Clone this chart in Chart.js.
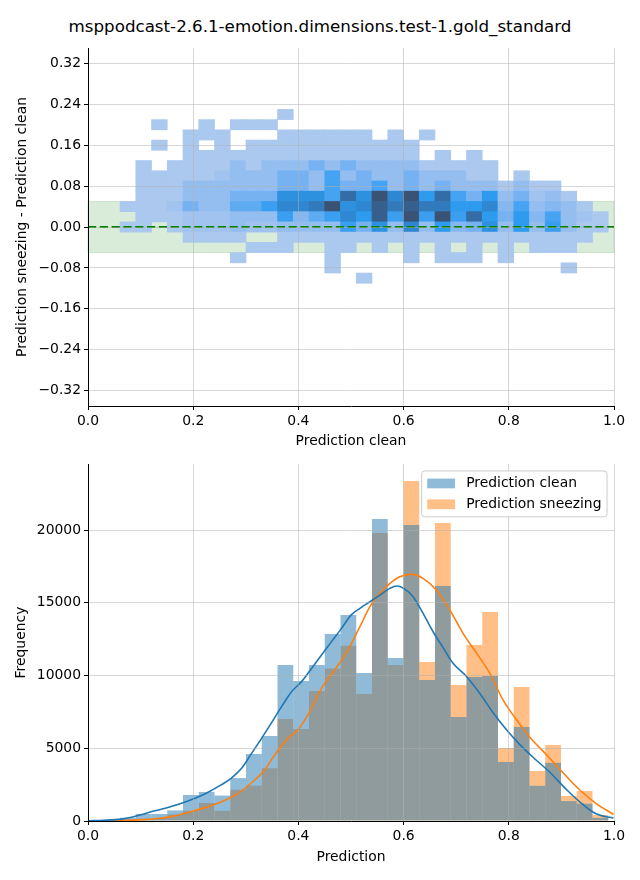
<!DOCTYPE html>
<html>
<head>
<meta charset="utf-8">
<script src="https://cdn.jsdelivr.net/npm/chart.js@4.4.1/dist/chart.umd.min.js"></script>
<style>
  html, body { margin: 0; background: #fff; overflow: hidden; }
  #wrap { position: relative; width: 640px; height: 880px; }
  #title { position: absolute; left: 0; top: 16px; width: 640px; line-height: 20px; text-align: center;
           font: 16.7px 'DejaVu Sans', sans-serif; color: #000; }
  canvas { position: absolute; left: 0; }
</style>
</head>
<body>
<div id="wrap">
  <div id="title">msppodcast-2.6.1-emotion.dimensions.test-1.gold_standard</div>
  <canvas id="diffChart" width="640" height="460" style="top:0"></canvas>
  <canvas id="histChart" width="640" height="420" style="top:460px"></canvas>
</div>
<script>
// histogram bins (shared by both panels)
const binStart = 0.001;
const binWidth = 0.02994;
const cleanCounts = [60, 90, 230, 480, 480, 730, 1790, 2000, 1750, 2950,
  4600, 5840, 10720, 9620, 10720, 12850, 14160, 10170, 20760, 11200,
  20340, 9690, 16150, 7150, 9900, 9970, 4060, 6470, 2420, 4000,
  1370, 1190, 220];
const sneezingCounts = [40, 60, 80, 130, 200, 450, 700, 1240, 700, 2150,
  2430, 3630, 7010, 6320, 8930, 10490, 12040, 8730, 19790, 10720,
  23370, 10930, 20480, 9350, 12100, 14360, 5020, 9210, 3440, 5220,
  1720, 2060, 410];

// kde curves
const kdeCleanX = [0.0, 0.03, 0.063, 0.095, 0.127, 0.158, 0.19, 0.222, 0.253, 0.272, 0.292, 0.311, 0.33, 0.349,
  0.368, 0.387, 0.406, 0.425, 0.444, 0.463, 0.482, 0.50, 0.517, 0.536, 0.555, 0.574, 0.587, 0.60, 0.618,
  0.637, 0.656, 0.676, 0.694, 0.72, 0.745, 0.771, 0.796, 0.821, 0.847, 0.878, 0.91, 0.942, 0.967, 0.999];
const kdeCleanY = [20, 50, 130, 380, 700, 990, 1380, 1860, 2480, 2930, 3620, 4650, 5680, 6760,
  7860, 8890, 9580, 10490, 11410, 12330, 13240, 14150, 14620, 15070, 15530, 15990, 16150, 15990, 15420,
  14270, 13010, 11870, 10840, 9920, 8770, 7400, 6250, 5250, 4350, 3350, 2150, 1100, 480, 200];
const kdeSneezeX = [0.04, 0.063, 0.095, 0.127, 0.158, 0.19, 0.222, 0.253, 0.285, 0.317, 0.336, 0.355, 0.38,
  0.399, 0.418, 0.444, 0.469, 0.494, 0.517, 0.536, 0.555, 0.574, 0.593, 0.615, 0.637, 0.662, 0.688, 0.713,
  0.739, 0.764, 0.789, 0.815, 0.84, 0.872, 0.904, 0.935, 0.967, 0.999];
const kdeSneezeY = [5, 30, 80, 150, 300, 580, 920, 1300, 1900, 2820, 3510, 4540, 5680,
  6260, 7290, 9120, 10380, 11750, 13360, 14730, 15650, 16330, 16790, 16950, 16680, 15880, 14500, 12900,
  11520, 10150, 8320, 6940, 5750, 4540, 3280, 2130, 1180, 450];

// 2d histogram of the difference: row centres, cell height, density level per column (first column = bin 2)
const diffRows = [0.22, 0.20, 0.18, 0.16, 0.14, 0.12, 0.10, 0.08, 0.06, 0.04, 0.02, 0.00, -0.02, -0.04, -0.06, -0.08, -0.10];
const diffCellHeight = 0.02;
const heatFirstBin = 2;
const diffLevels = [
  [0,0,0,0,0,0,0,0,0,0,1,0,0,0,0,0,0,0,0,0,0,0,0,0,0,0,0,0,0,0,0],
  [0,0,1,0,0,1,0,1,1,1,0,0,0,0,0,0,0,0,0,0,0,0,0,0,0,0,0,0,0,0,0],
  [0,0,0,0,1,1,1,0,0,0,1,1,1,1,1,1,0,1,0,1,0,0,0,0,0,0,0,0,0,0,0],
  [0,0,1,0,1,0,1,0,1,1,1,1,1,1,1,1,1,1,1,0,0,0,0,0,0,0,0,0,0,0,0],
  [0,0,0,0,1,1,1,1,1,1,1,1,1,1,1,1,1,1,1,0,1,0,1,0,0,0,0,0,0,0,0],
  [0,1,0,1,1,1,1,2,1,2,2,2,3,2,3,2,2,2,2,1,1,1,1,1,0,0,0,0,0,0,0],
  [0,1,1,1,1,1,1.5,2,2,2,3,3,2,4,2,3,2,2,3,2,2,2,1,1,0,1,0,0,0,0,0],
  [0,1,1,1,2,2,2,2,2,2,3,3,2,4,3,3,4,2,3,2,3,2,2,2,1,2,1,1,0,0,0],
  [0,1,1,1,2,2,2,3,3,3,5.5,5.5,5.5,4,7,5.5,8,6,8,5,7,4,3,5,2,3,1.5,2,1,0,0],
  [1,1,1,1.5,3,2,2,3.5,3.5,4.5,6,6,6.5,8,5.5,6,7.5,6.5,7.5,6.5,6.5,5,5,6,2.5,4,2,2.5,2,1,0],
  [0,1,1,1,1.5,1.5,1.5,2,2,2,4.5,2.5,3.5,4.5,6,5,7.5,4.5,8,4.5,8,4.5,7,5,3,5,2.5,4,2,1.5,1],
  [1,1,0,1,1.5,1.5,1.5,2,1.5,1.5,2,2,2,2,4.5,3,5.5,2,6,2,5,2.5,3,5.5,2,5,2,4.5,2,1,1],
  [0,0,0,0,1,1,1,1,0,0,1,1,1,1,1,1,1,1,1,1,1,1,1,1,1,1,1,1,1,1,0],
  [0,0,0,0,0,0,0,0,1,1,1,0,0,1,1,0,1,0,1,0,1,0,1,0,1,0,1,1,1,0,0],
  [0,0,0,0,0,0,0,1,0,0,0,0,0,1,0,0,0,0,1,0,1,1,1,0,1,0,0,0,0,0,0],
  [0,0,0,0,0,0,0,0,0,0,0,0,0,1,0,0,0,0,0,0,0,0,0,0,0,0,0,0,1,0,0],
  [0,0,0,0,0,0,0,0,0,0,0,0,0,0,0,1,0,0,0,0,0,0,0,0,0,0,0,0,0,0,0]
];
const tolerance = 0.05;

const xTicks = [0, 0.2, 0.4, 0.6, 0.8, 1.0];
const diffTicks = [-0.32, -0.24, -0.16, -0.08, 0, 0.08, 0.16, 0.24, 0.32];
const freqTicks = [0, 5000, 10000, 15000, 20000];

// colour ramp for the 2d histogram, level 1..8
const levelRamp = [[171,200,238],[148,190,240],[118,178,242],[70,163,242],[46,155,238],[46,135,208],[52,108,165],[58,82,115]];
function levelColor(lv) {
  const t = Math.min(Math.max(lv - 1, 0), levelRamp.length - 1);
  const i = Math.floor(t), f = t - i;
  const a = levelRamp[i], b = levelRamp[Math.min(i + 1, levelRamp.length - 1)];
  const c = a.map((v, k) => Math.round(v + (b[k] - v) * f));
  return `rgb(${c[0]},${c[1]},${c[2]})`;
}

const FONT = "'DejaVu Sans', 'Liberation Sans', sans-serif";
Chart.defaults.font.family = FONT;
Chart.defaults.font.size = 13.9;
Chart.defaults.color = '#000';
const gridCol = 'rgba(176,176,176,0.5)';

const binCenters = cleanCounts.map((_, i) => binStart + binWidth * (i + 0.5));

function fixScale(size) {
  return s => {
    if (s.isHorizontal()) s.height = size; else s.width = size;
    s.paddingTop = s.paddingBottom = s.paddingLeft = s.paddingRight = 0;
  };
}
function setTicks(values) { return s => { s.ticks = values.map(v => ({ value: v })); }; }
const signed = (v, d) => (v < -1e-9 ? '\u2212' : '') + Math.abs(v).toFixed(d);

function axis(extra, ticks, fmt, size, title, titlePad) {
  return Object.assign({
    type: 'linear', offset: false,
    grid: { offset: false, color: gridCol, lineWidth: 1, tickColor: '#000', tickLength: 4, tickWidth: 1, z: 1 },
    border: { color: '#000', width: 1, z: 2 },
    ticks: { padding: 3, maxRotation: 0, autoSkip: false, callback: fmt },
    afterBuildTicks: setTicks(ticks),
    afterFit: fixScale(size),
    title: { display: true, text: title, padding: titlePad }
  }, extra);
}

// ---- top: difference heatmap ----
const cells = [];
diffRows.forEach((yc, r) => diffLevels[r].forEach((lv, c) => {
  if (lv > 0) cells.push({ x: binCenters[c + heatFirstBin], y: [yc - diffCellHeight / 2, yc + diffCellHeight / 2], lv: lv });
}));

const bandPlugin = {
  id: 'band',
  beforeDatasetsDraw(chart) {
    const { ctx, chartArea, scales: { y } } = chart;
    const top = y.getPixelForValue(tolerance), bottom = y.getPixelForValue(-tolerance);
    ctx.save();
    ctx.fillStyle = 'rgba(0,128,0,0.15)';
    ctx.strokeStyle = 'rgba(0,128,0,0.15)';
    ctx.fillRect(chartArea.left, top, chartArea.right - chartArea.left, bottom - top);
    ctx.strokeRect(chartArea.left, top, chartArea.right - chartArea.left, bottom - top);
    ctx.restore();
  }
};

new Chart(document.getElementById('diffChart'), {
  type: 'bar',
  data: {
    datasets: [
      { type: 'line', data: [{ x: 0, y: 0 }, { x: 1, y: 0 }], borderColor: '#008000', borderWidth: 2.2,
        borderDash: [8.2, 3.6], pointRadius: 0, order: 0 },
      { data: cells, backgroundColor: cells.map(c => levelColor(c.lv)), borderWidth: 0,
        grouped: false, barPercentage: 1, categoryPercentage: 1, order: 1 }
    ]
  },
  options: {
    responsive: false, animation: false, events: [],
    layout: { padding: { top: 48, right: 26, left: 0, bottom: 0 } },
    plugins: { legend: { display: false }, tooltip: { enabled: false } },
    scales: {
      x: axis({ min: 0, max: 1 }, xTicks, v => v.toFixed(1), 54, 'Prediction clean', { top: 0, bottom: 10.6 }),
      y: axis({ min: -0.35, max: 0.35 }, diffTicks, v => signed(v, 2), 88,
        'Prediction sneezing - Prediction clean', { top: 13.6, bottom: 0 })
    }
  },
  plugins: [bandPlugin]
});

// ---- bottom: histograms + kde ----
const cleanColor = 'rgba(31,119,180,0.5)';
const sneezeColor = 'rgba(255,127,14,0.5)';
const legendItems = [
  { label: 'Prediction clean', color: cleanColor },
  { label: 'Prediction sneezing', color: sneezeColor }
];

const boxLegend = {
  id: 'boxLegend',
  afterDraw(chart) {
    const { ctx, chartArea } = chart;
    const fs = 13.9;
    ctx.save();
    ctx.font = fs + 'px ' + FONT;
    const textW = Math.max(...legendItems.map(it => ctx.measureText(it.label).width));
    const pad = 0.4 * fs, handle = 2 * fs, gap = 0.8 * fs, step = 1.5 * fs;
    const w = pad + handle + gap + textW + pad;
    const h = pad * 2 + fs * legendItems.length + 0.5 * fs * (legendItems.length - 1);
    const x = chartArea.right - 0.5 * fs - w, y = chartArea.top + 0.5 * fs;
    ctx.fillStyle = 'rgba(255,255,255,0.8)';
    ctx.strokeStyle = '#cccccc';
    ctx.lineWidth = 1;
    ctx.beginPath();
    if (ctx.roundRect) ctx.roundRect(x, y, w, h, 3); else ctx.rect(x, y, w, h);
    ctx.fill(); ctx.stroke();
    legendItems.forEach((it, i) => {
      const cy = y + pad + fs / 2 + i * step;
      ctx.fillStyle = it.color;
      ctx.fillRect(x + pad, cy - 0.35 * fs, handle, 0.7 * fs);
      ctx.fillStyle = '#000';
      ctx.textBaseline = 'middle';
      ctx.fillText(it.label, x + pad + handle + gap, cy);
    });
    ctx.restore();
  }
};

const kdeLine = (xs, ys, color) => ({
  type: 'line', data: xs.map((x, i) => ({ x: x, y: ys[i] })), borderColor: color, borderWidth: 1.6,
  pointRadius: 0, cubicInterpolationMode: 'monotone', order: 0
});
const histBars = (counts, color, order) => ({
  data: binCenters.map((x, i) => ({ x: x, y: counts[i] })), backgroundColor: color, borderWidth: 0,
  grouped: false, barPercentage: 1, categoryPercentage: 1, inflateAmount: 0, order: order
});

new Chart(document.getElementById('histChart'), {
  type: 'bar',
  data: {
    datasets: [
      histBars(cleanCounts, cleanColor, 1),
      histBars(sneezingCounts, sneezeColor, 2),
      kdeLine(kdeCleanX, kdeCleanY, '#1f77b4'),
      kdeLine(kdeSneezeX, kdeSneezeY, '#ff7f0e')
    ]
  },
  options: {
    responsive: false, animation: false, events: [],
    layout: { padding: { top: 4, right: 26, left: 0, bottom: 0 } },
    plugins: { legend: { display: false }, tooltip: { enabled: false } },
    scales: {
      x: axis({ min: 0, max: 1 }, xTicks, v => v.toFixed(1), 59, 'Prediction', { top: 0, bottom: 14.6 }),
      y: axis({ min: 0, max: 24540 }, freqTicks, v => String(v), 88, 'Frequency', { top: 13.2, bottom: 0 })
    }
  },
  plugins: [boxLegend]
});
</script>
</body>
</html>
